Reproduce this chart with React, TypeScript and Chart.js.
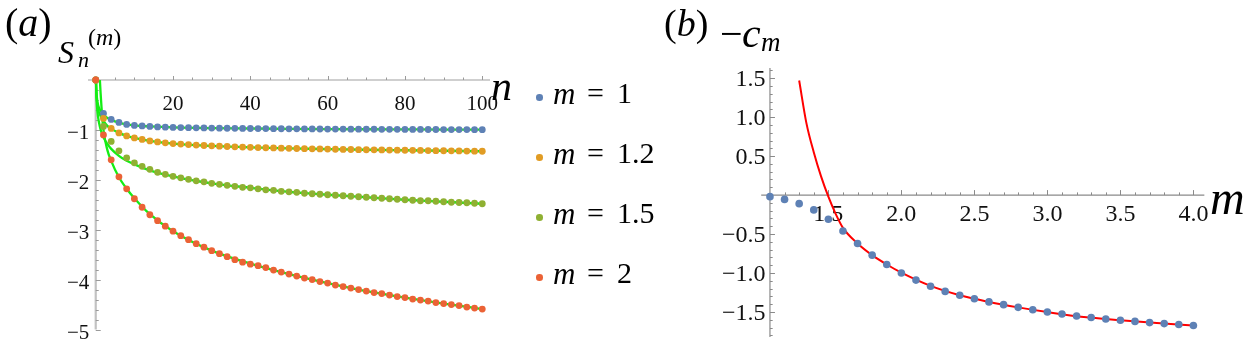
import React, { useEffect, useRef } from "react";
import { Chart, registerables } from "chart.js";

Chart.register(...registerables);

const SERIF = "Liberation Serif";

// ---------- Panel (a) data ----------
const N_VALUES = [0, 2, 4, 6, 8, 10, 12, 14, 16, 18, 20, 22, 24, 26, 28, 30, 32, 34, 36, 38, 40, 42, 44, 46, 48, 50, 52, 54, 56, 58, 60, 62, 64, 66, 68, 70, 72, 74, 76, 78, 80, 82, 84, 86, 88, 90, 92, 94, 96, 98, 100];
const S_M1 = [0, -0.67, -0.79, -0.85, -0.89, -0.91, -0.92, -0.93, -0.94, -0.945, -0.95, -0.953, -0.956, -0.959, -0.961, -0.963, -0.965, -0.967, -0.969, -0.97, -0.972, -0.973, -0.974, -0.976, -0.977, -0.978, -0.979, -0.98, -0.981, -0.982, -0.983, -0.984, -0.984, -0.985, -0.986, -0.987, -0.987, -0.988, -0.989, -0.989, -0.99, -0.99, -0.991, -0.992, -0.992, -0.993, -0.993, -0.994, -0.994, -0.995, -0.995];
const S_M12 = [0, -0.77, -0.97, -1.06, -1.12, -1.16, -1.19, -1.22, -1.24, -1.26, -1.275, -1.285, -1.295, -1.305, -1.313, -1.32, -1.327, -1.333, -1.339, -1.344, -1.349, -1.354, -1.358, -1.362, -1.366, -1.37, -1.373, -1.376, -1.379, -1.382, -1.385, -1.388, -1.391, -1.393, -1.396, -1.398, -1.4, -1.402, -1.404, -1.406, -1.408, -1.41, -1.412, -1.414, -1.416, -1.418, -1.42, -1.422, -1.424, -1.426, -1.428];
const S_M15 = [0, -0.93, -1.23, -1.42, -1.56, -1.66, -1.73, -1.79, -1.85, -1.89, -1.93, -1.96, -1.99, -2.02, -2.04, -2.07, -2.09, -2.11, -2.13, -2.15, -2.16, -2.18, -2.2, -2.21, -2.23, -2.24, -2.25, -2.27, -2.28, -2.29, -2.3, -2.31, -2.32, -2.33, -2.34, -2.35, -2.36, -2.37, -2.38, -2.39, -2.4, -2.41, -2.42, -2.42, -2.43, -2.44, -2.45, -2.455, -2.46, -2.47, -2.48];
const S_M2 = [0, -1.1, -1.6, -1.94, -2.18, -2.38, -2.55, -2.7, -2.82, -2.93, -3.03, -3.12, -3.2, -3.28, -3.35, -3.42, -3.48, -3.54, -3.6, -3.65, -3.69, -3.72, -3.76, -3.81, -3.85, -3.89, -3.93, -3.97, -4.0, -4.04, -4.07, -4.11, -4.14, -4.17, -4.2, -4.23, -4.26, -4.28, -4.31, -4.34, -4.36, -4.39, -4.41, -4.43, -4.46, -4.48, -4.5, -4.52, -4.55, -4.57, -4.59];

const FIT_N = [0.03, 0.1, 0.3, 0.6, 1, 1.5, 2, 3, 4, 6, 8, 10, 14, 20, 30, 40, 50, 60, 70, 80, 90, 100];
const FIT_M1 = [0.2, -0.1, -0.35, -0.5, -0.58, -0.64, -0.69, -0.76, -0.8, -0.855, -0.89, -0.91, -0.93, -0.95, -0.965, -0.972, -0.978, -0.983, -0.987, -0.99, -0.993, -0.995];
const FIT_M12 = [0.2, -0.1, -0.4, -0.58, -0.68, -0.76, -0.82, -0.92, -0.98, -1.06, -1.12, -1.16, -1.22, -1.275, -1.32, -1.349, -1.37, -1.385, -1.398, -1.408, -1.418, -1.428];
const FIT_M15 = [0.28, -0.13, -0.5, -0.74, -0.91, -1.05, -1.15, -1.28, -1.38, -1.52, -1.62, -1.69, -1.81, -1.93, -2.07, -2.16, -2.24, -2.3, -2.35, -2.4, -2.44, -2.48];
const FIT_M2 = [6, 4.5, 2.5, 1.0, 0.12, -0.55, -1.0, -1.4, -1.62, -1.95, -2.18, -2.37, -2.69, -3.03, -3.42, -3.68, -3.89, -4.07, -4.23, -4.36, -4.48, -4.59];

const M_LEGEND = ["1", "1.2", "1.5", "2"];
const SERIES_COLORS = ["#5E81B5", "#E19C24", "#8FB032", "#EB6235"];
const FIT_COLOR = "#14ee14";

const A_X_TICKS = [20, 40, 60, 80, 100];
const A_X_MINOR = [5, 10, 15, 25, 30, 35, 45, 50, 55, 65, 70, 75, 85, 90, 95];
const A_Y_TICKS = [-1, -2, -3, -4, -5];
const A_Y_MINOR = [-0.2, -0.4, -0.6, -0.8, -1.2, -1.4, -1.6, -1.8, -2.2, -2.4, -2.6, -2.8, -3.2, -3.4, -3.6, -3.8, -4.2, -4.4, -4.6, -4.8];

// ---------- Panel (b) data ----------
const M_VALUES = [1.1, 1.2, 1.3, 1.4, 1.5, 1.6, 1.7, 1.8, 1.9, 2.0, 2.1, 2.2, 2.3, 2.4, 2.5, 2.6, 2.7, 2.8, 2.9, 3.0, 3.1, 3.2, 3.3, 3.4, 3.5, 3.6, 3.7, 3.8, 3.9, 4.0];
const NEG_C_VALUES = [-0.02, -0.055, -0.11, -0.19, -0.31, -0.46, -0.62, -0.77, -0.89, -1.0, -1.09, -1.17, -1.235, -1.285, -1.33, -1.37, -1.405, -1.44, -1.47, -1.5, -1.525, -1.55, -1.57, -1.59, -1.605, -1.62, -1.635, -1.648, -1.66, -1.672];
const FIT_M_VALUES = [1.3, 1.35, 1.4, 1.45, 1.5, 1.55, 1.6, 1.7, 1.8, 1.9, 2.0, 2.2, 2.4, 2.6, 2.8, 3.0, 3.25, 3.5, 3.75, 4.0];
const FIT_NEG_C = [1.47, 0.92, 0.55, 0.24, -0.02, -0.24, -0.42, -0.62, -0.77, -0.89, -0.995, -1.165, -1.285, -1.37, -1.44, -1.5, -1.565, -1.605, -1.64, -1.672];

const B_X_TICKS = [1.5, 2.0, 2.5, 3.0, 3.5, 4.0];
const B_X_MINOR = [1.2, 1.3, 1.4, 1.6, 1.7, 1.8, 1.9, 2.1, 2.2, 2.3, 2.4, 2.6, 2.7, 2.8, 2.9, 3.1, 3.2, 3.3, 3.4, 3.6, 3.7, 3.8, 3.9];
const B_Y_TICKS = [-1.5, -1.0, -0.5, 0.5, 1.0, 1.5];
const B_Y_MINOR = [-1.8, -1.7, -1.6, -1.4, -1.3, -1.2, -1.1, -0.9, -0.8, -0.7, -0.6, -0.4, -0.3, -0.2, -0.1, 0.1, 0.2, 0.3, 0.4, 0.6, 0.7, 0.8, 0.9, 1.1, 1.2, 1.3, 1.4, 1.6];

const BLUE = "#5E81B5";
const RED = "#FF0000";

type AxesCfg = {
  xAxisAt: number;
  yAxisAt: number;
  xMajor: number[];
  xMinor: number[];
  yMajor: number[];
  yMinor: number[];
  xColor: string;
  xWidth: number;
  yColor: string;
  yWidth: number;
  tickColor: string;
  xMajorLen: number;
  xMinorLen: number;
  yMajorLen: number;
  yMinorLen: number;
};

function makeAxesPlugin(cfg: AxesCfg) {
  return {
    id: "mmaAxes",
    beforeDatasetsDraw(chart: any) {
      const { ctx, chartArea } = chart;
      const xs = chart.scales.x;
      const ys = chart.scales.y;
      const ay = ys.getPixelForValue(cfg.xAxisAt);
      const ax = xs.getPixelForValue(cfg.yAxisAt);
      ctx.save();
      ctx.lineCap = "butt";
      ctx.strokeStyle = cfg.xColor;
      ctx.lineWidth = cfg.xWidth;
      ctx.beginPath();
      ctx.moveTo(chartArea.left, ay);
      ctx.lineTo(chartArea.right, ay);
      ctx.stroke();
      ctx.strokeStyle = cfg.yColor;
      ctx.lineWidth = cfg.yWidth;
      ctx.beginPath();
      ctx.moveTo(ax, chartArea.top);
      ctx.lineTo(ax, chartArea.bottom);
      ctx.stroke();
      ctx.strokeStyle = cfg.tickColor;
      ctx.lineWidth = 1;
      ctx.beginPath();
      const xt = (v: number, len: number) => {
        const px = Math.round(xs.getPixelForValue(v)) + 0.5;
        ctx.moveTo(px, ay);
        ctx.lineTo(px, ay - len);
      };
      const yt = (v: number, len: number) => {
        const py = Math.round(ys.getPixelForValue(v)) + 0.5;
        ctx.moveTo(ax, py);
        ctx.lineTo(ax + len, py);
      };
      cfg.xMajor.forEach((v) => xt(v, cfg.xMajorLen));
      cfg.xMinor.forEach((v) => xt(v, cfg.xMinorLen));
      cfg.yMajor.forEach((v) => yt(v, cfg.yMajorLen));
      cfg.yMinor.forEach((v) => yt(v, cfg.yMinorLen));
      ctx.stroke();
      ctx.restore();
    },
  };
}

const zeroFit = (s: any) => {
  if (s.isHorizontal()) s.height = 0;
  else s.width = 0;
  s.paddingLeft = 0;
  s.paddingRight = 0;
  s.paddingTop = 0;
  s.paddingBottom = 0;
};

const minusFmt = (v: number, digits: number) =>
  (v < 0 ? "\u2212" : "") + (digits > 0 ? Math.abs(v).toFixed(digits) : String(Math.abs(v)));

function configA(): any {
  const dots = [S_M2, S_M15, S_M12, S_M1].map((arr, k) => {
    const idx = 3 - k;
    return {
      type: "scatter",
      label: "m = " + M_LEGEND[idx],
      data: N_VALUES.map((n, i) => ({ x: n, y: arr[i] })),
      backgroundColor: SERIES_COLORS[idx],
      borderWidth: 0,
      pointRadius: 3.4,
      showLine: false,
      clip: false,
      order: k,
    };
  });
  const fits = [FIT_M1, FIT_M12, FIT_M15, FIT_M2].map((arr) => ({
    type: "scatter",
    data: FIT_N.map((n, i) => ({ x: n, y: arr[i] })),
    showLine: true,
    borderColor: FIT_COLOR,
    borderWidth: 2.3,
    pointRadius: 0,
    cubicInterpolationMode: "monotone",
    order: 10,
  }));
  return {
    type: "scatter",
    data: { datasets: [...dots, ...fits] },
    options: {
      animation: false,
      responsive: false,
      devicePixelRatio: 1,
      events: [],
      layout: { padding: { left: 88, right: 150, top: 80, bottom: 16.5 }, autoPadding: false },
      plugins: { legend: { display: false }, tooltip: { enabled: false } },
      scales: {
        x: {
          type: "linear",
          min: -2,
          max: 102,
          position: { y: 0 },
          grid: { display: false, drawTicks: false },
          border: { display: false },
          ticks: {
            font: { family: SERIF, size: 21 },
            color: "#111",
            padding: 11.5,
            autoSkip: false,
            maxRotation: 0,
            minRotation: 0,
            callback: (v: number) => String(v),
          },
          afterBuildTicks: (s: any) => {
            s.ticks = A_X_TICKS.map((v) => ({ value: v }));
          },
          afterFit: zeroFit,
        },
        y: {
          type: "linear",
          min: -5,
          max: 0,
          // labels are right-aligned at this x value (just left of the axis line at n = 0)
          position: { x: -1.66 },
          grid: { display: false, drawTicks: false },
          border: { display: false },
          ticks: {
            font: { family: SERIF, size: 21 },
            color: "#111",
            padding: 0,
            labelOffset: 3.5,
            autoSkip: false,
            callback: (v: number) => minusFmt(v, 0),
          },
          afterBuildTicks: (s: any) => {
            s.ticks = A_Y_TICKS.map((v) => ({ value: v }));
          },
          afterFit: zeroFit,
        },
      },
    },
    plugins: [
      makeAxesPlugin({
        xAxisAt: 0,
        yAxisAt: 0,
        xMajor: A_X_TICKS,
        xMinor: A_X_MINOR,
        yMajor: A_Y_TICKS,
        yMinor: A_Y_MINOR,
        xColor: "#a0a0a0",
        xWidth: 1.2,
        yColor: "#c2c2c2",
        yWidth: 2.2,
        tickColor: "#9a9a9a",
        xMajorLen: 4,
        xMinorLen: 2.5,
        yMajorLen: 5,
        yMinorLen: 3,
      }),
    ],
  };
}

function configB(): any {
  return {
    type: "scatter",
    data: {
      datasets: [
        {
          label: "-c_m",
          data: M_VALUES.map((m, i) => ({ x: m, y: NEG_C_VALUES[i] })),
          backgroundColor: BLUE,
          borderWidth: 0,
          pointRadius: 3.8,
          showLine: false,
          clip: false,
          order: 0,
        },
        {
          label: "fit",
          data: FIT_M_VALUES.map((m, i) => ({ x: m, y: FIT_NEG_C[i] })),
          showLine: true,
          borderColor: RED,
          borderWidth: 2,
          pointRadius: 0,
          cubicInterpolationMode: "monotone",
          order: 1,
        },
      ],
    },
    options: {
      animation: false,
      responsive: false,
      devicePixelRatio: 1,
      events: [],
      layout: { padding: { left: 121.2, right: 44.65, top: 68, bottom: 9 }, autoPadding: false },
      plugins: { legend: { display: false }, tooltip: { enabled: false } },
      scales: {
        x: {
          type: "linear",
          min: 1.04,
          max: 4.075,
          position: { y: 0 },
          grid: { display: false, drawTicks: false },
          border: { display: false },
          ticks: {
            font: { family: SERIF, size: 24 },
            color: "#111",
            padding: 5.5,
            autoSkip: false,
            maxRotation: 0,
            minRotation: 0,
            callback: (v: number) => v.toFixed(1),
          },
          afterBuildTicks: (s: any) => {
            s.ticks = B_X_TICKS.map((v) => ({ value: v }));
          },
          afterFit: zeroFit,
        },
        y: {
          type: "linear",
          min: -1.82,
          max: 1.63,
          // labels are right-aligned at this x value (just left of the axis line at m = 1.1)
          position: { x: 1.069 },
          grid: { display: false, drawTicks: false },
          border: { display: false },
          ticks: {
            font: { family: SERIF, size: 24 },
            color: "#111",
            padding: 0,
            labelOffset: 1.5,
            autoSkip: false,
            callback: (v: number) => minusFmt(v, 1),
          },
          afterBuildTicks: (s: any) => {
            s.ticks = B_Y_TICKS.map((v) => ({ value: v }));
          },
          afterFit: zeroFit,
        },
      },
    },
    plugins: [
      makeAxesPlugin({
        xAxisAt: 0,
        yAxisAt: 1.1,
        xMajor: B_X_TICKS,
        xMinor: B_X_MINOR,
        yMajor: B_Y_TICKS,
        yMinor: B_Y_MINOR,
        xColor: "#8a8a8a",
        xWidth: 1.2,
        yColor: "#8a8a8a",
        yWidth: 1.2,
        tickColor: "#8a8a8a",
        xMajorLen: 5,
        xMinorLen: 2.7,
        yMajorLen: 5,
        yMinorLen: 2.7,
      }),
    ],
  };
}

function Txt(props: { x: number; base: number; size: number; italic?: boolean; children: any }) {
  const { x, base, size, italic, children } = props;
  return (
    <span
      style={{
        position: "absolute",
        left: x,
        top: base - 0.8375 * size,
        fontSize: size,
        lineHeight: "1",
        fontFamily: SERIF,
        fontStyle: italic ? "italic" : "normal",
        color: "#000",
        whiteSpace: "nowrap",
      }}
    >
      {children}
    </span>
  );
}

export default function App() {
  const refA = useRef<HTMLCanvasElement>(null);
  const refB = useRef<HTMLCanvasElement>(null);

  useEffect(() => {
    const a = new Chart(refA.current as HTMLCanvasElement, configA());
    const b = new Chart(refB.current as HTMLCanvasElement, configB());
    return () => {
      a.destroy();
      b.destroy();
    };
  }, []);

  return (
    <div
      style={{
        position: "absolute",
        left: 0,
        top: 0,
        width: 1249,
        height: 346,
        overflow: "hidden",
        background: "#fff",
      }}
    >
      <canvas ref={refA} width={640} height={346} style={{ position: "absolute", left: 0, top: 0, width: 640, height: 346 }} />
      <canvas ref={refB} width={609} height={346} style={{ position: "absolute", left: 640, top: 0, width: 609, height: 346 }} />

      {/* Panel (a) labels */}
      <Txt x={5} base={36} size={40}>
        (<i>a</i>)
      </Txt>
      <Txt x={58} base={63} size={32} italic>S</Txt>
      <Txt x={78} base={67} size={22} italic>n</Txt>
      <Txt x={88} base={45} size={24}>
        (<i>m</i>)
      </Txt>
      <Txt x={491} base={100} size={42} italic>n</Txt>

      {/* Legend */}
      {M_LEGEND.map((lab, i) => (
        <React.Fragment key={lab}>
          <span
            style={{
              position: "absolute",
              left: 539.3 - 3.3,
              top: 97.3 + 60 * i - 3.3,
              width: 6.6,
              height: 6.6,
              borderRadius: "50%",
              background: SERIES_COLORS[i],
            }}
          />
          <Txt x={553} base={103.5 + 60 * i} size={31} italic>m</Txt>
          <Txt x={587} base={103.5 + 60 * i} size={30}>=</Txt>
          <Txt x={617} base={103.5 + 60 * i} size={30}>{lab}</Txt>
        </React.Fragment>
      ))}

      {/* Panel (b) labels */}
      <Txt x={664} base={36} size={38}>
        (<i>b</i>)
      </Txt>
      <Txt x={720} base={47} size={40}>{"\u2212"}</Txt>
      <Txt x={742} base={47} size={42} italic>c</Txt>
      <Txt x={761} base={52} size={27} italic>m</Txt>
      <Txt x={1210} base={214} size={48} italic>m</Txt>
    </div>
  );
}
